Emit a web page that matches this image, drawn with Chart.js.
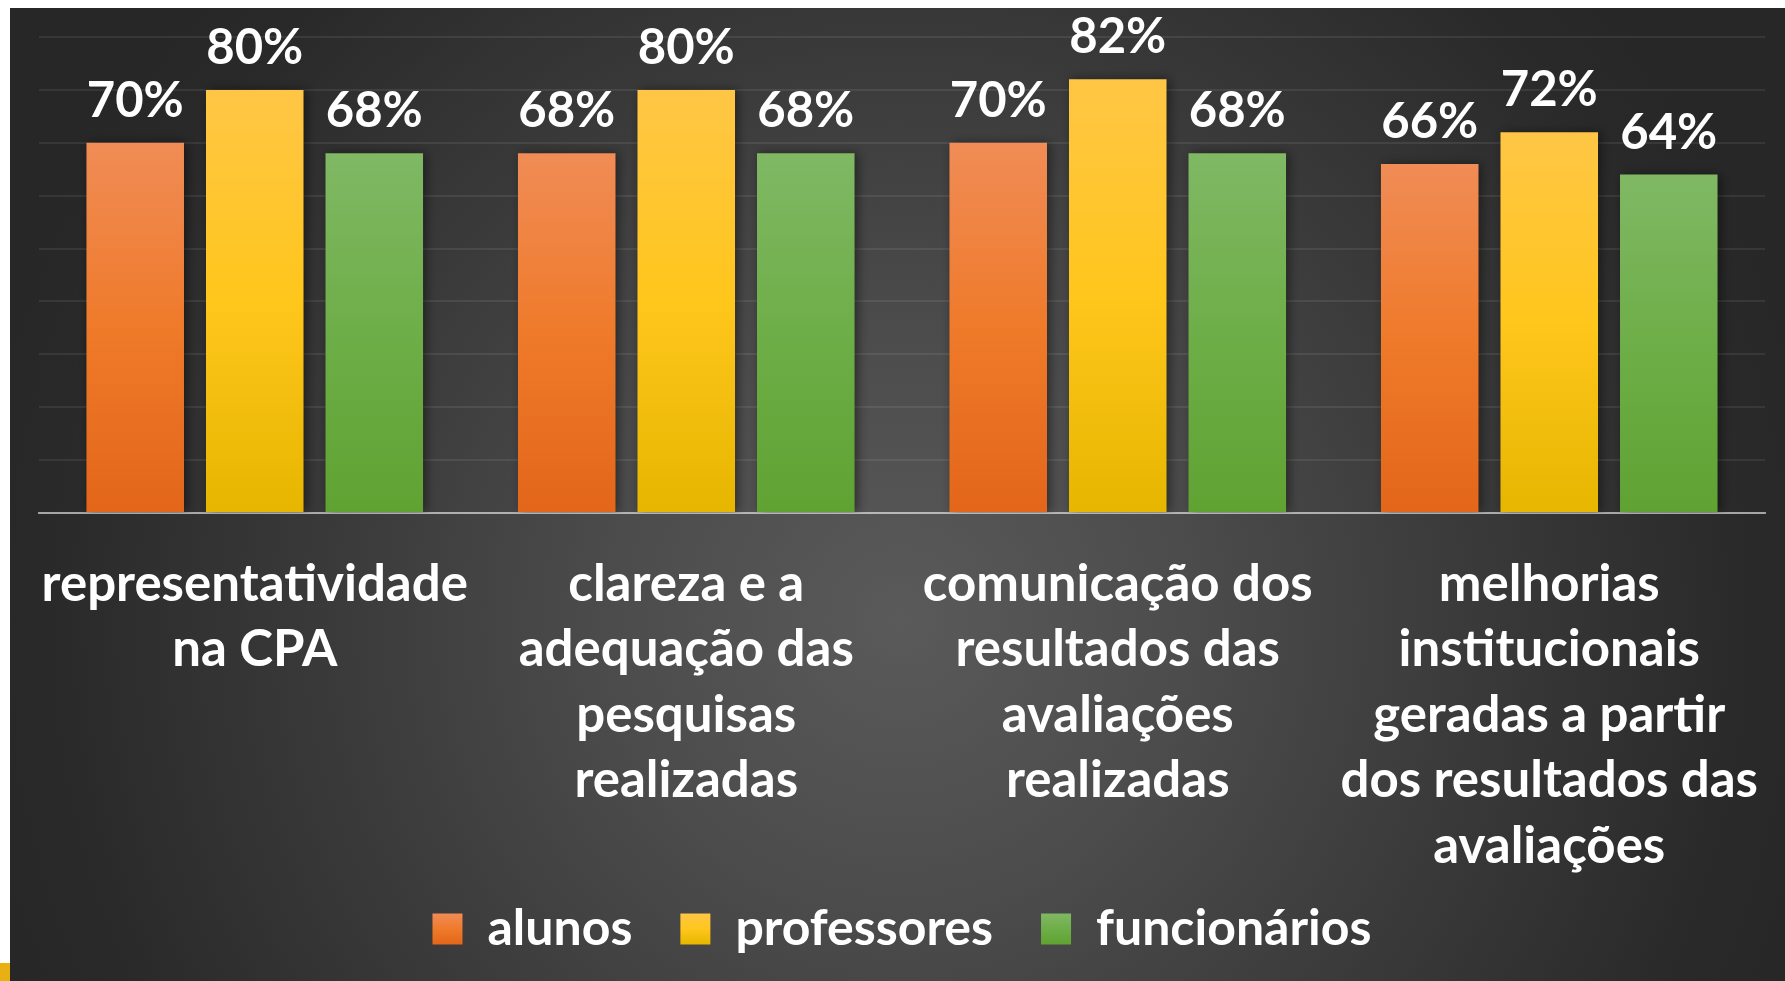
<!DOCTYPE html>
<html>
<head>
<meta charset="utf-8">
<script src="https://cdn.jsdelivr.net/npm/chart.js@4/dist/chart.umd.min.js"></script>
<style>
  html, body { margin: 0; padding: 0; background: #ffffff; }
  #wrap { width: 1785px; height: 981px; position: relative; }
</style>
</head>
<body>
<div id="wrap"><canvas id="c"></canvas></div>
<script>
const categories = [
  ["representatividade", "na CPA"],
  ["clareza e a", "adequação das", "pesquisas", "realizadas"],
  ["comunicação dos", "resultados das", "avaliações", "realizadas"],
  ["melhorias", "institucionais", "geradas a partir", "dos resultados das", "avaliações"]
];
const seriesNames = ["alunos", "professores", "funcionários"];
const alunos = [70, 68, 70, 66];
const professores = [80, 80, 82, 72];
const funcionarios = [68, 68, 68, 64];
const yTicks = [0, 10, 20, 30, 40, 50, 60, 70, 80, 90];

const FONT = "Lato, 'Open Sans', sans-serif";
const colorStops = [
  ['#F08C56', '#EF7A2A', '#E3661A'],
  ['#FFC646', '#FFC61C', '#E6B600'],
  ['#80B864', '#6EAE48', '#60A232']
];
const LEG_FONT = 50, LEG_PAD = 48, LEG_BOX_W = 30, LEG_BOX_H = 31;

function grad(stops) {
  return (ctx) => {
    const c = ctx.chart;
    if (!c.chartArea || ctx.raw === undefined || !c.scales.y) return stops[1];
    const y = c.scales.y;
    const top = y.getPixelForValue(ctx.raw);
    const bot = y.getPixelForValue(0);
    const g = c.ctx.createLinearGradient(0, top, 0, bot);
    g.addColorStop(0, stops[0]);
    g.addColorStop(0.5, stops[1]);
    g.addColorStop(1, stops[2]);
    return g;
  };
}

const bgPlugin = {
  id: 'bg',
  beforeDraw(chart) {
    const ctx = chart.ctx;
    const W = chart.width, H = chart.height;
    ctx.save();
    ctx.fillStyle = '#ffffff';
    ctx.fillRect(0, 0, W, H);
    ctx.fillStyle = '#E8B012';
    ctx.fillRect(0, H - 18, 10, 18);
    const g = ctx.createRadialGradient(900, 620, 0, 900, 620, 950);
    g.addColorStop(0, '#5a5a5a');
    g.addColorStop(0.3, '#4c4c4c');
    g.addColorStop(0.6, '#3a3a3a');
    g.addColorStop(0.9, '#292929');
    g.addColorStop(1, '#272727');
    ctx.fillStyle = g;
    ctx.fillRect(10, 8, W - 10, H - 8);
    ctx.restore();
    // legend boxes with vertical gradient
    const lg = chart.legend;
    if (lg && lg.legendItems) {
      const itemH = Math.max(LEG_FONT, LEG_BOX_H);
      const y0 = lg.top + LEG_PAD + (itemH - LEG_BOX_H) / 2;
      lg.legendItems.forEach((it) => {
        const s = colorStops[it.datasetIndex];
        const lgg = ctx.createLinearGradient(0, y0, 0, y0 + LEG_BOX_H);
        lgg.addColorStop(0, s[0]);
        lgg.addColorStop(0.5, s[1]);
        lgg.addColorStop(1, s[2]);
        it.fillStyle = lgg;
        it.lineWidth = 0;
        it.strokeStyle = 'rgba(0,0,0,0)';
      });
    }
  }
};

const barFx = {
  id: 'barFx',
  beforeDatasetsDraw(chart) {
    const ctx = chart.ctx;
    ctx.save();
    ctx.shadowColor = 'rgba(0,0,0,0.45)';
    ctx.shadowBlur = 10;
    ctx.shadowOffsetX = 3;
    ctx.shadowOffsetY = 0;
  },
  afterDatasetsDraw(chart) {
    const ctx = chart.ctx;
    ctx.restore();
    ctx.save();
    ctx.fillStyle = '#ffffff';
    ctx.font = "bold 49px " + FONT;
    ctx.textAlign = 'center';
    ctx.textBaseline = 'alphabetic';
    chart.data.datasets.forEach((ds, di) => {
      const meta = chart.getDatasetMeta(di);
      meta.data.forEach((el, i) => {
        ctx.fillText(ds.data[i] + '%', el.x, el.y - 26);
      });
    });
    ctx.restore();
  }
};

new Chart(document.getElementById('c'), {
  type: 'bar',
  data: {
    labels: categories,
    datasets: [
      { label: seriesNames[0], data: alunos, backgroundColor: grad(colorStops[0]) },
      { label: seriesNames[1], data: professores, backgroundColor: grad(colorStops[1]) },
      { label: seriesNames[2], data: funcionarios, backgroundColor: grad(colorStops[2]) }
    ]
  },
  options: {
    responsive: true,
    maintainAspectRatio: false,
    animation: false,
    categoryPercentage: 0.831,
    barPercentage: 0.816,
    layout: { padding: { left: 39, right: 20, top: 37, bottom: 17 } },
    plugins: {
      tooltip: { enabled: false },
      legend: {
        position: 'bottom',
        labels: {
          color: '#ffffff',
          font: { family: FONT, size: LEG_FONT, weight: 'bold' },
          boxWidth: LEG_BOX_W,
          boxHeight: LEG_BOX_H,
          padding: LEG_PAD
        }
      }
    },
    scales: {
      x: {
        z: 1,
        grid: { display: false },
        border: { display: true, color: 'rgba(255,255,255,0.55)', width: 2 },
        ticks: {
          color: '#ffffff',
          autoSkip: false,
          maxRotation: 0,
          minRotation: 0,
          mirror: true,
          padding: -104,
          font: { family: FONT, size: 51, weight: 'bold', lineHeight: '65.5px' }
        },
        afterFit(scale) { scale.height = 451 - (Math.max(LEG_FONT, LEG_BOX_H) + LEG_PAD + 10); }
      },
      y: {
        min: 0,
        max: 90,
        afterBuildTicks(scale) { scale.ticks = yTicks.map(v => ({ value: v })); },
        ticks: { display: false },
        border: { display: false },
        grid: { color: 'rgba(255,255,255,0.08)', lineWidth: 2, drawTicks: false },
        afterFit(scale) { scale.width = 0; }
      }
    }
  },
  plugins: [bgPlugin, barFx]
});
</script>
</body>
</html>
